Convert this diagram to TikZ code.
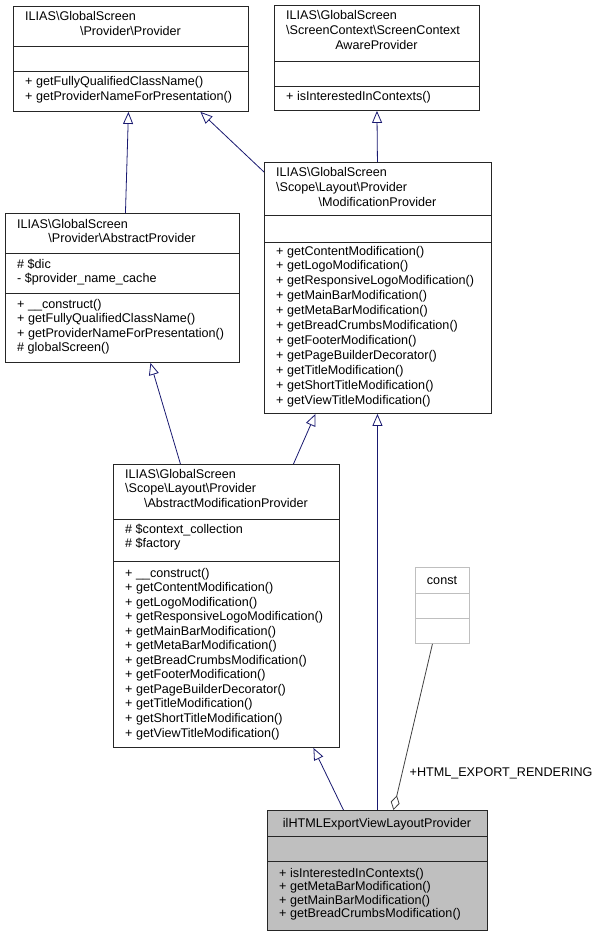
\documentclass[tikz,border=0pt]{standalone}
\usepackage{fontspec}
\setmainfont{Liberation Sans}
\usetikzlibrary{arrows.meta}

\definecolor{edgeblue}{HTML}{191970}
\definecolor{aggrgray}{HTML}{404040}
\definecolor{boxgray}{HTML}{BFBFBF}

\tikzset{
  cls/.style={draw=black!85, line width=0.9pt, fill=white, inner sep=0pt, anchor=north west},
  txt/.style={anchor=base west, inner sep=0pt, font=\fontsize{12.6}{14}\selectfont},
  ctxt/.style={txt, anchor=base},
  inherit/.style={draw=edgeblue, line width=0.8pt, -{Triangle[open, length=12pt, width=10pt, fill=white]}},
  aggr/.style={draw=aggrgray, line width=0.8pt, -{Diamond[open, length=15pt, width=9pt, fill=white]}}
}

% box: name, x1, y1, x2, y2
\newcommand{\umlbox}[6][]{%
  \node[cls, #1, minimum width=#4pt-#2pt, minimum height=#5pt-#3pt] (#6) at (#2,#3) {};}
% compartment separator: box name, y
\newcommand{\umlsep}[3][black!85]{%
  \draw[#1, line width=0.9pt] (#2.west |- 0,#3) -- (#2.east |- 0,#3);}
% text lines: prefix, x, first baseline, line step, lines
\newcommand{\members}[5]{%
  \foreach \t [count=\i] in {#5}
    \node[txt] (#1\i) at (#2, #3+#4*\i-#4) {\t};}

\begin{document}
\begin{tikzpicture}[x=1pt, y=-1pt]
\useasboundingbox (0,0) rectangle (605,936);

% Provider
\umlbox{13}{6}{248}{111}{prov}
\umlsep{prov}{46} \umlsep{prov}{71}
\members{prov-t}{25}{21}{14.5}{ILIAS\textbackslash GlobalScreen}
\node[ctxt] (prov-t2) at (130.5,35.5) {\textbackslash Provider\textbackslash Provider};
\members{prov-m}{25}{86}{14.5}{+ getFullyQualifiedClassName(), + getProviderNameForPresentation()}

% ScreenContextAwareProvider
\umlbox{274}{5}{479}{110}{scap}
\umlsep{scap}{61} \umlsep{scap}{86}
\members{scap-t}{286}{20}{15}{ILIAS\textbackslash GlobalScreen, \textbackslash ScreenContext\textbackslash ScreenContext}
\node[ctxt] (scap-t3) at (376.5,50) {AwareProvider};
\members{scap-m}{286}{101}{14.5}{+ isInterestedInContexts()}

% AbstractProvider
\umlbox{5}{213}{239}{362}{ap}
\umlsep{ap}{253} \umlsep{ap}{293}
\members{ap-t}{17}{228}{14.5}{ILIAS\textbackslash GlobalScreen}
\node[ctxt] (ap-t2) at (122,242.5) {\textbackslash Provider\textbackslash AbstractProvider};
\members{ap-a}{17}{268}{14.5}{\# \$dic, - \$provider\_name\_cache}
\members{ap-m}{17}{308}{14.5}{+ \_\_construct(), + getFullyQualifiedClassName(),
  + getProviderNameForPresentation(), \# globalScreen()}

% ModificationProvider
\umlbox{264}{162}{491}{413}{mp}
\umlsep{mp}{215} \umlsep{mp}{242}
\members{mp-t}{276}{177}{14.5}{ILIAS\textbackslash GlobalScreen, \textbackslash Scope\textbackslash Layout\textbackslash Provider}
\node[ctxt] (mp-t3) at (377.5,206) {\textbackslash ModificationProvider};
\members{mp-m}{276}{255}{14.9}{+ getContentModification(), + getLogoModification(),
  + getResponsiveLogoModification(), + getMainBarModification(),
  + getMetaBarModification(), + getBreadCrumbsModification(),
  + getFooterModification(), + getPageBuilderDecorator(),
  + getTitleModification(), + getShortTitleModification(),
  + getViewTitleModification()}

% AbstractModificationProvider
\umlbox{113}{464}{339}{747}{amp}
\umlsep{amp}{519} \umlsep{amp}{561}
\members{amp-t}{125}{478}{14.5}{ILIAS\textbackslash GlobalScreen, \textbackslash Scope\textbackslash Layout\textbackslash Provider}
\node[ctxt] (amp-t3) at (226,507) {\textbackslash AbstractModificationProvider};
\members{amp-a}{125}{533}{14.5}{\# \$context\_collection, \# \$factory}
\members{amp-m}{125}{577}{14.55}{+ \_\_construct(), + getContentModification(),
  + getLogoModification(), + getResponsiveLogoModification(),
  + getMainBarModification(), + getMetaBarModification(),
  + getBreadCrumbsModification(), + getFooterModification(),
  + getPageBuilderDecorator(), + getTitleModification(),
  + getShortTitleModification(), + getViewTitleModification()}

% const
\umlbox[draw=boxgray]{415}{567}{469}{643}{const}
\umlsep[boxgray]{const}{593} \umlsep[boxgray]{const}{618}
\node[ctxt] (const-t) at (442,584) {const};

% ilHTMLExportViewLayoutProvider
\umlbox[fill=boxgray]{267}{810}{487}{930}{html}
\umlsep{html}{836} \umlsep{html}{861}
\node[ctxt] (html-t) at (377,827) {ilHTMLExportViewLayoutProvider};
\members{html-m}{279}{877}{13.6}{+ isInterestedInContexts(), + getMetaBarModification(),
  + getMainBarModification(), + getBreadCrumbsModification()}

% relations
\draw[inherit] ([xshift=3pt]ap.north) -- ([xshift=-2.5pt]prov.south);
\draw[inherit] ([yshift=-10pt]mp.north west) -- ([xshift=69.5pt]prov.south);
\draw[inherit] ([xshift=-0.5pt]mp.north) -- (scap.south);
\draw[inherit] ([xshift=-46pt]amp.north) -- ([xshift=28pt]ap.south);
\draw[inherit] ([xshift=67pt]amp.north) -- ([xshift=-62.5pt]mp.south);
\draw[inherit] ([xshift=-34pt]html.north) -- ([xshift=87pt]amp.south);
\draw[inherit] ([xshift=0pt]html.north) -- ([xshift=-0.5pt]mp.south);
\draw[aggr] ([xshift=-10pt]const.south) -- node[txt, pos=0.8, xshift=8pt] (aggr-l) {+HTML\_EXPORT\_RENDERING} ([xshift=16pt]html.north);

\end{tikzpicture}
\end{document}
